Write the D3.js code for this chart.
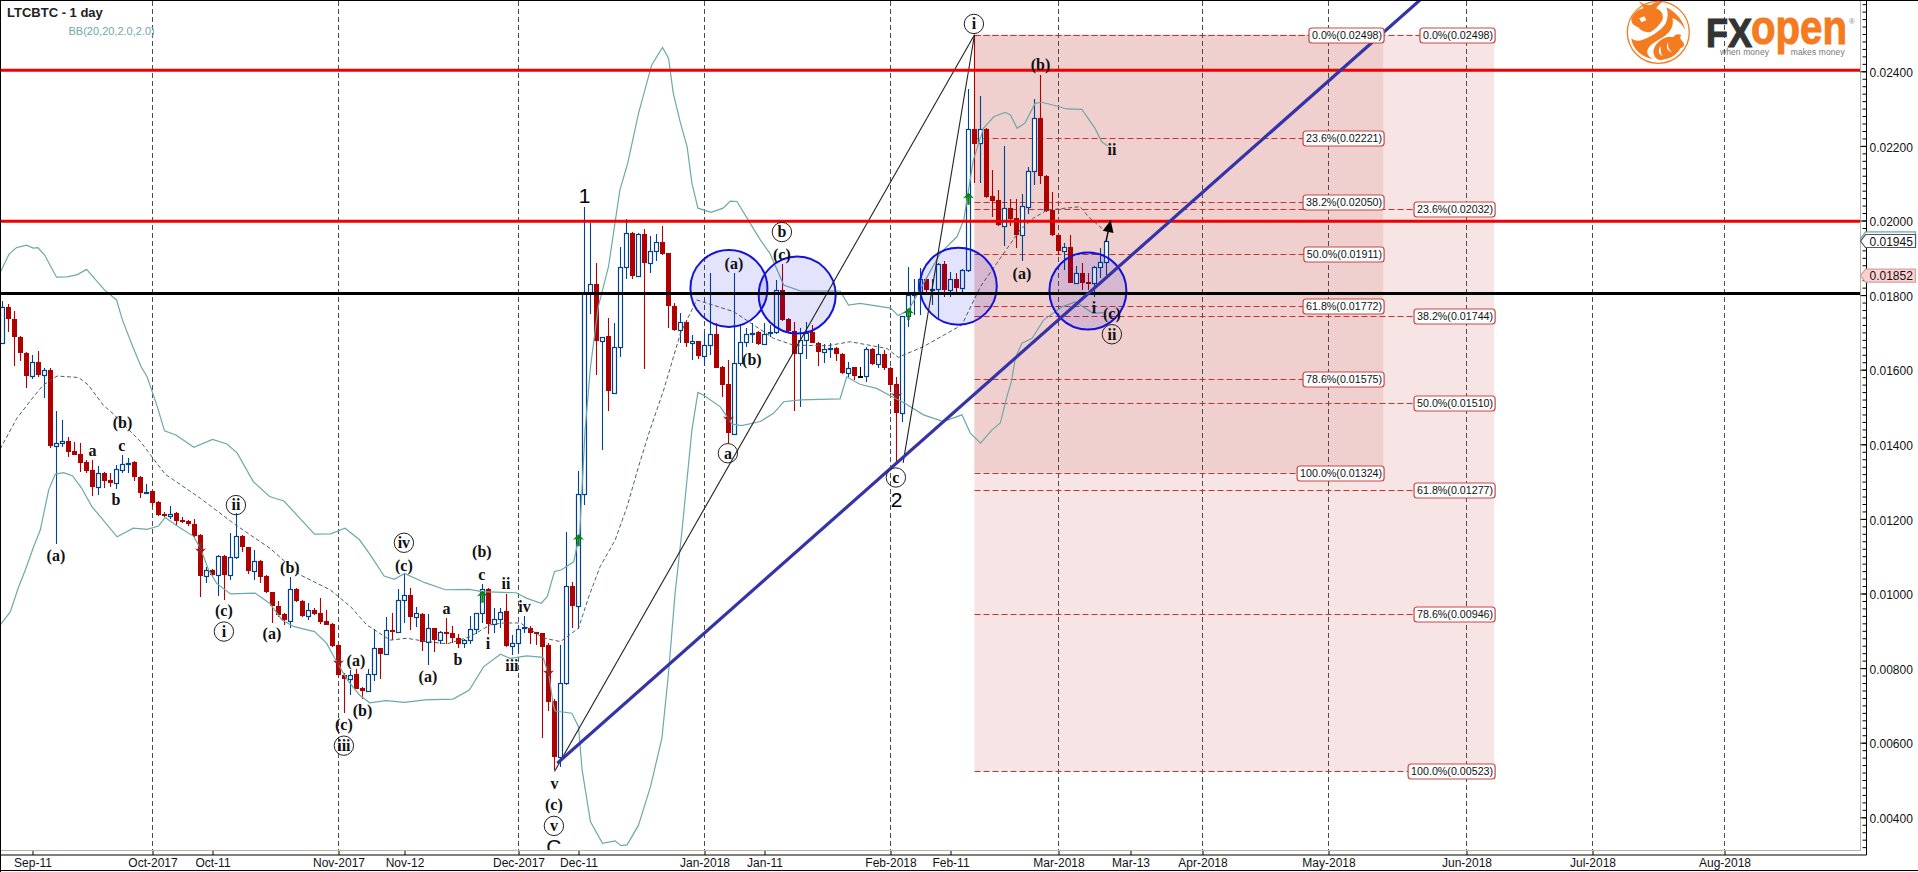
<!DOCTYPE html>
<html><head><meta charset="utf-8">
<script src="https://cdn.jsdelivr.net/npm/d3@7"></script>
<style>
html,body{margin:0;padding:0;background:#fff;overflow:hidden}
svg{display:block}
text{font-family:"Liberation Sans",Arial,sans-serif}
.wave{font-family:"Liberation Serif","Times New Roman",serif;font-weight:bold;font-size:16px;fill:#111;text-anchor:middle}
</style></head><body>
<svg id="c" width="1918" height="872"></svg>
<script>
// all prices below are in units of 0.00001 BTC
const UNIT = 1e-5;
const firstBar = -5; // bar 0 is Sep-11 2017, one bar per day
const opens = [1671,1767,1735,1689,1644,
1584,1620,1587,1598,1396,1403,1408,1381,1373,1352,
1331,1286,1322,1304,1297,1332,1346,1352,1311,1271,
1275,1245,1212,1209,1215,1197,1194,1185,1157,1048,
1062,1050,1100,1050,1097,1153,1124,1059,1087,1047,
1003,966,944,927,1011,981,941,956,947,925,
918,861,782,772,784,747,738,783,853,837,
901,896,982,995,938,945,871,907,874,896,
893,880,866,874,906,947,1011,918,932,953,
860,868,907,908,896,893,862,712,563,759,
1019,967,1266,1805,1829,1676,1690,1538,1660,1874,
1966,1852,1963,1885,1919,1943,1912,1772,1706,1729,
1671,1676,1637,1667,1695,1608,1561,1428,1619,1673,
1695,1700,1669,1698,1700,1815,1735,1705,1644,1679,
1701,1672,1648,1655,1657,1642,1590,1606,1583,1584,
1655,1614,1642,1604,1562,1485,1744,1799,1807,1844,
1815,1817,1883,1815,1842,1818,1866,2244,2207,2244,
2066,2054,1986,2033,2006,1962,2037,2132,2275,2119,
2028,1961,1917,1928,1833,1858,1835,1832,1875,1888];
const highs = [1784,1776,1757,1690,1648,
1639,1650,1605,1604,1489,1465,1420,1407,1403,1358,
1358,1342,1327,1322,1344,1371,1362,1354,1315,1293,
1275,1247,1218,1234,1218,1206,1197,1199,1159,1070,
1065,1102,1102,1161,1215,1158,1126,1117,1090,1050,
1003,979,947,1043,1016,983,974,960,987,957,
920,861,788,795,797,750,797,904,854,936,
949,1011,1052,1014,963,947,945,908,899,934,
913,891,877,940,949,1025,1014,960,960,998,
889,915,941,913,898,895,866,716,862,1165,
1030,1328,2035,1994,1885,1689,1739,1724,1930,2003,
1970,1967,1976,1958,1964,1986,1914,1778,1751,1733,
1693,1678,1702,1858,1724,1610,1626,1858,1720,1711,
1724,1705,1724,1720,1841,1883,1738,1728,1711,1729,
1720,1675,1668,1671,1662,1644,1620,1608,1608,1660,
1657,1668,1653,1606,1580,1744,1876,1842,1872,1847,
1842,1885,1892,1863,1858,1869,2352,2497,2334,2247,
2135,2082,2201,2057,2057,2070,2143,2326,2390,2122,
2077,1962,1939,1961,1878,1885,1858,1878,1925,1945];
const lows = [1671,1702,1611,1622,1552,
1576,1581,1525,1389,1133,1392,1367,1370,1327,1324,
1261,1263,1283,1286,1280,1324,1322,1302,1257,1267,
1233,1208,1204,1199,1184,1188,1181,1152,991,1029,
1047,993,983,1036,1092,1111,1052,1036,1029,1000,
922,938,915,908,978,936,929,942,918,915,
857,780,680,729,743,718,738,765,772,836,
874,895,922,902,909,847,809,843,865,864,
866,855,855,865,891,922,891,895,907,856,
835,844,893,865,861,613,685,527,536,755,
908,905,1238,1749,1586,1385,1488,1538,1633,1842,
1843,1848,1601,1858,1892,1908,1711,1705,1671,1662,
1626,1630,1610,1639,1604,1526,1404,1426,1610,1662,
1671,1666,1666,1687,1697,1731,1702,1488,1501,1630,
1671,1610,1617,1631,1622,1588,1581,1572,1577,1568,
1613,1604,1599,1541,1349,1461,1715,1747,1747,1808,
1773,1733,1796,1796,1809,1807,1863,2100,2100,2059,
2010,1986,1932,1985,1927,1892,2017,2095,2097,2024,
1959,1908,1866,1832,1832,1814,1814,1796,1845,1854];
const closes = [1767,1735,1689,1644,1584,
1620,1587,1598,1396,1403,1408,1380,1371,1351,1329,
1286,1322,1302,1297,1333,1346,1351,1311,1270,1273,
1243,1210,1208,1214,1195,1193,1185,1155,1048,1062,
1050,1100,1050,1097,1153,1124,1059,1088,1045,1003,
966,942,928,1011,981,941,957,945,924,916,
860,782,772,782,745,738,784,853,837,901,
896,982,995,938,947,871,907,874,896,893,
880,865,874,906,947,1011,918,932,951,860,
868,904,909,895,893,857,710,563,759,1019,
967,1266,1807,1829,1678,1689,1542,1660,1874,1966,
1852,1963,1885,1919,1943,1910,1772,1706,1729,1671,
1676,1637,1667,1695,1605,1559,1429,1619,1673,1695,
1699,1669,1697,1700,1815,1733,1705,1642,1680,1699,
1672,1648,1655,1657,1642,1590,1605,1584,1583,1655,
1614,1641,1604,1560,1485,1744,1799,1807,1844,1815,
1817,1883,1815,1842,1818,1867,2244,2206,2244,2064,
2053,1988,2033,2005,1962,2039,2132,2275,2118,2026,
1960,1917,1928,1833,1858,1833,1832,1875,1888,1945];

// Bollinger bands as [bar, price] readings
const bbUpper = [[-5.4,1860],[-3.9,1910],[-2.7,1927],[-1,1934],[0.1,1926],[0.9,1927],[2,1908],[4,1848],[5.8,1849],[7.5,1855],[9,1869],[12,1814],[14,1787],[15,1733],[16.7,1662],[18.1,1608],[19.1,1581],[20.8,1501],[22,1436],[23.9,1425],[26.9,1392],[30,1413],[32.4,1401],[34.1,1377],[36.8,1300],[39.5,1260],[41.9,1248],[47,1159],[49.7,1160],[52.1,1175],[54.5,1144],[56.5,1099],[58.6,1047],[60.3,1038],[62,1054],[65.4,1029],[68.8,1010],[72.8,1011],[74.9,1005],[80.6,1002],[82.4,987],[84.8,974],[85.8,992],[87,1059],[88.1,1063],[90.2,1085],[91.2,1162],[92.1,1438],[93,1608],[94.3,1769],[96,1876],[97.9,2082],[99.2,2153],[101,2287],[103.2,2417],[105,2464],[106,2435],[106.8,2341],[108,2261],[109.1,2198],[109.9,2100],[110.9,2033],[113.1,2022],[115.1,2033],[116.3,2052],[117.4,2051],[119.3,2001],[121.3,1948],[122.9,1912],[125.2,1827],[128,1811],[134.6,1811],[136,1773],[137.9,1778],[143,1765],[144.3,1745],[146,1760],[147.9,1814],[151.3,1912],[154.1,1957],[155.2,2001],[156.8,2162],[158.5,2247],[160.2,2278],[162.1,2290],[163,2283],[164.1,2247],[165.4,2261],[167.1,2314],[168.2,2317],[170.7,2307],[172.4,2299],[174.9,2298],[177.1,2247],[178.2,2211],[179.2,2200]];
const bbMiddle = [[-5.4,1387],[-2.6,1470],[0.2,1528],[1.8,1559],[4.1,1583],[7.7,1579],[9.3,1559],[11.8,1505],[13.5,1481],[18,1407],[22.1,1320],[28,1255],[33.5,1188],[36.3,1157],[39.6,1121],[44.6,1050],[49.6,1010],[53,965],[55.7,916],[59.6,875],[62.4,880],[65.7,871],[69.1,865],[72.9,884],[76.3,916],[78.5,921],[81.3,921],[85.1,881],[88,871],[91,907],[92.7,991],[94.6,1072],[97.1,1143],[99.1,1233],[101,1340],[102.9,1438],[105.2,1546],[108,1698],[110.7,1787],[116.8,1756],[120.2,1720],[123.5,1684],[126.8,1666],[132.4,1664],[136.3,1675],[142.4,1657],[144.3,1633],[148.5,1662],[154.9,1720],[158,1823],[160.7,1885],[164.6,1975],[166.8,2006],[169.1,2028],[174.6,2037],[176,2010],[178.5,1975]];
const bbLower = [[-5.4,915],[-3.7,951],[-2.3,1018],[-1.2,1063],[0.2,1126],[1.3,1170],[2.7,1278],[3.8,1320],[5.2,1324],[6.7,1315],[8.2,1282],[9.9,1233],[11.3,1206],[14.1,1152],[16.8,1175],[19.1,1172],[21,1181],[22.1,1204],[24.1,1181],[26.8,1154],[28,1121],[29.3,1065],[30.7,1027],[33,999],[37.1,1001],[39.5,974],[41.6,929],[43.6,911],[47,898],[49,867],[50.7,817],[52.5,768],[54.5,728],[56.2,707],[58.9,713],[62,708],[65.4,715],[70.1,717],[72.8,741],[75.2,804],[78,837],[79.6,826],[82.4,833],[85.1,829],[86.1,777],[86.8,701],[87.1,685],[89.9,679],[91,643],[91.6,527],[93,388],[95,330],[97.1,337],[98.1,324],[99.1,326],[101,379],[103,482],[104.9,612],[106,786],[107.1,1001],[108.2,1161],[109.9,1438],[110.9,1539],[111.8,1532],[114.6,1501],[116.6,1454],[118.2,1450],[121.3,1461],[123.5,1483],[125.2,1514],[128,1519],[134.6,1522],[135.7,1581],[137.9,1561],[140.7,1550],[143.2,1528],[145.4,1510],[148.5,1479],[151.8,1461],[154.9,1479],[156.3,1430],[158,1403],[159.9,1438],[161.3,1457],[162.4,1528],[163.2,1572],[163.8,1631],[164.9,1671],[166.6,1684],[168.5,1733],[171.6,1769],[173.8,1782],[176.8,1751],[178.5,1753]];

// time axis: label and bar index (future bars count weekdays only)
const xTickLabels = ["Sep-11","Oct-2017","Oct-11","Nov-2017","Nov-12","Dec-2017","Dec-11","Jan-2018","Jan-11","Feb-2018","Feb-11","Mar-2018","Mar-13","Apr-2018","May-2018","Jun-2018","Jul-2018","Aug-2018"];
const xTickBars = [0,20,30,51,62,81,91,112,122,143,153,171,183,195,216,239,260,282];
const gridBars = [20,51,81,112,143,171,195,216,239,260,282];

// levels
const redLevels = [0.02403,0.01998];
const blackLevel = 0.01804;
const fibPct = ["0.0%","23.6%","38.2%","50.0%","61.8%","78.6%","100.0%"];
const fibA = [0.02498,0.02221,0.02050,0.01911,0.01772,0.01575,0.01324];
const fibB = [0.02498,0.02032,0.01744,0.01510,0.01277,0.00946,0.00523];
const fibStartBar = 157, fibAEndBar = 225.1, fibBEndBar = 243.6;

// annotations [bar, price, text, circled]
const waveLabels = [[3.9,1101,"(a)"],[10,1383,"a"],[14.9,1396,"c"],[13.9,1251,"b"],[15,1458,"(b)"],[33.9,1237,"ii",1],[31.9,953,"(c)"],[31.9,898,"i",1],[39.9,891,"(a)"],[42.9,1069,"(b)"],[53.9,819,"(a)"],[55,685,"(b)"],[51.9,649,"(c)"],[51.9,592,"iii",1],[61.9,1136,"iv",1],[61.9,1075,"(c)"],[65.9,777,"(a)"],[69,959,"a"],[70.9,822,"b"],[74.9,1051,"c"],[74.9,1111,"(b)"],[75.9,865,"i"],[78.9,1026,"ii"],[82,965,"iv"],[79.9,807,"iii"],[87,491,"v"],[86.9,433,"(c)"],[86.9,377,"v",1],[115.9,1376,"a",1],[143.9,1311,"c",1],[156.9,2527,"i",1],[124.9,1969,"b",1],[124.9,1908,"(c)"],[116.9,1885,"(a)"],[119.9,1626,"(b)"],[164.9,1858,"(a)"],[168,2417,"(b)"],[179.9,2189,"ii"],[176.9,1765,"i"],[179.9,1751,"(c)"],[179.9,1695,"ii",1]];
const bigLabels = [[92,2067,"1"],[144,1251,"2"]];
const upArrows = [[75,991],[91,1143],[146,1749],[156,2058]];
const downArrows = [[28,1122],[51,822],[86,795],[116,1476],[144,1538]];
const blueCircles = [[116.07,1818],[127.45,1800],[154.3,1824],[175.9,1811]];
const thinLines = [[[87,523],[157,2498]],[[145.1,1350],[157,2498]]];
const trendLine = [[87.47,545],[231.25,2591]];
const nextMove = [[178.9,1943],[179.7,2001]];
const currentPrice = 0.01945, otherPrice = 0.01852, hiddenTag = 0.01952;

const W=1918,H=872,plotR=1860.5,axisX=1866.5,plotB=851,axisB=855;
const x=d3.scaleLinear().domain([0,282]).range([32.5,1724.5]);
const y=d3.scaleLinear().domain([0.004,0.024]).range([817.3,71.3]);
const py=p=>y(p*UNIT);
const svg=d3.select("#c");
const line=d3.line().x(d=>x(d[0])).y(d=>py(d[1]));

const defs=svg.append("defs");
defs.append("clipPath").attr("id","plot").append("rect").attr("x",1).attr("y",1).attr("width",plotR-1).attr("height",plotB-1);
const g=svg.append("g").attr("clip-path","url(#plot)");

// fib zones
g.append("rect").attr("x",x(fibStartBar)).attr("width",x(fibBEndBar)-x(fibStartBar)).attr("y",y(fibB[0])).attr("height",y(fibB[6])-y(fibB[0])).attr("fill","#f7e4e4");
g.append("rect").attr("x",x(fibStartBar)).attr("width",x(fibAEndBar)-x(fibStartBar)).attr("y",y(fibA[0])).attr("height",y(fibA[6])-y(fibA[0])).attr("fill","#f0cfcf");

// grid
g.selectAll("line.grid").data(gridBars).join("line").attr("class","grid")
 .attr("x1",d=>x(d)).attr("x2",d=>x(d)).attr("y1",1).attr("y2",plotB)
 .attr("stroke","#4d4d4d").attr("stroke-dasharray","5,3");

// fib level lines
const fibLines=[...fibB.map(v=>[v,x(fibBEndBar)]),...fibA.map(v=>[v,x(fibAEndBar)])];
g.selectAll("line.fib").data(fibLines).join("line").attr("class","fib")
 .attr("x1",x(fibStartBar)).attr("x2",d=>d[1]).attr("y1",d=>Math.round(y(d[0]))+.5).attr("y2",d=>Math.round(y(d[0]))+.5)
 .attr("stroke","#c83232").attr("stroke-dasharray","6,3");

// candles
const bars=opens.map((o,i)=>({i:i+firstBar,o,h:highs[i],l:lows[i],c:closes[i]}));
const color=d=>d.c>d.o?"#00438f":d.c<d.o?"#b00000":"#000";
const cg=g.append("g");
cg.selectAll("line").data(bars).join("line")
 .attr("x1",d=>x(d.i)).attr("x2",d=>x(d.i)).attr("y1",d=>Math.round(py(d.h))).attr("y2",d=>Math.round(py(d.l)))
 .attr("stroke",color).attr("stroke-width",1.1);
cg.selectAll("rect").data(bars).join("rect")
 .each(function(d){
   const t=Math.round(py(Math.max(d.o,d.c))),b=Math.round(py(Math.min(d.o,d.c)));
   const s=d3.select(this);
   if(d.c>d.o) s.attr("x",x(d.i)-2).attr("width",4).attr("y",t+.5).attr("height",Math.max(1,b-t)).attr("fill","#fff").attr("stroke","#00438f").attr("stroke-width",1.2);
   else s.attr("x",x(d.i)-2.5).attr("width",5).attr("y",t).attr("height",Math.max(2,b-t)).attr("fill",color(d));
 });

// bollinger
const bandG=g.append("g").attr("fill","none");
bandG.append("path").attr("d",line(bbUpper)).attr("stroke","#6ea8a8").attr("stroke-width",1.2);
bandG.append("path").attr("d",line(bbLower)).attr("stroke","#6ea8a8").attr("stroke-width",1.2);
bandG.append("path").attr("d",line(bbMiddle)).attr("stroke","#4f5f5f").attr("stroke-width",1).attr("stroke-dasharray","4,2.5");

// signal arrows
const arrowPath=dir=>`M0,${-6*dir}L${-5.5},${-0.5*dir}L-1.2,${-1.5*dir}L-1.2,${6*dir}L1.2,${6*dir}L1.2,${-1.5*dir}L5.5,${-0.5*dir}Z`;
g.selectAll("path.up").data(upArrows).join("path").attr("class","up").attr("d",arrowPath(1))
 .attr("transform",d=>`translate(${x(d[0])},${py(d[1])})`).attr("fill","#0b860b");
g.selectAll("path.dn").data(downArrows).join("path").attr("class","dn").attr("d",arrowPath(-1))
 .attr("transform",d=>`translate(${x(d[0])},${py(d[1])})`).attr("fill","#9a1c1c");

// blue circles
g.selectAll("circle.zone").data(blueCircles).join("circle").attr("class","zone")
 .attr("cx",d=>x(d[0])).attr("cy",d=>py(d[1])).attr("r",38.5)
 .attr("fill","rgba(0,0,220,0.11)").attr("stroke","#1212dc").attr("stroke-width",2);

// thin wave lines
g.selectAll("path.thin").data(thinLines).join("path").attr("class","thin").attr("d",line).attr("fill","none").attr("stroke","#222").attr("stroke-width",1.1);

// horizontal levels
g.selectAll("line.red").data(redLevels).join("line").attr("class","red")
 .attr("x1",1).attr("x2",plotR).attr("y1",d=>y(d)).attr("y2",d=>y(d)).attr("stroke","#f00000").attr("stroke-width",3);
g.append("line").attr("x1",1).attr("x2",plotR).attr("y1",y(blackLevel)).attr("y2",y(blackLevel)).attr("stroke","#000").attr("stroke-width",3);

// trend line
g.append("path").attr("d",line(trendLine)).attr("stroke","#3434a6").attr("stroke-width",3.2).attr("fill","none");

// next move arrow
const [a0,a1]=nextMove;
g.append("path").attr("d",line(nextMove)).attr("stroke","#000").attr("stroke-width",1.4);
const ang=Math.atan2(py(a1[1])-py(a0[1]),x(a1[0])-x(a0[0]))*180/Math.PI;
g.append("path").attr("d","M0,0L-12,-5.5L-12,5.5Z").attr("fill","#000").attr("transform",`translate(${x(a1[0])},${py(a1[1])}) rotate(${ang})`);

// wave labels
const wl=g.append("g");
wl.selectAll("text").data(waveLabels).join("text").attr("class","wave")
 .attr("x",d=>x(d[0])).attr("y",d=>py(d[1])).attr("dy",".33em").text(d=>d[2]);
wl.selectAll("circle").data(waveLabels.filter(d=>d[3])).join("circle")
 .attr("cx",d=>x(d[0])).attr("cy",d=>py(d[1])).attr("r",9.7).attr("fill","none").attr("stroke","#222").attr("stroke-width",1);
wl.append("text").attr("class","wave").attr("x",x(86.9)).attr("y",py(323)).attr("dy",".36em").attr("style","font-size:21px;font-weight:normal;font-family:'Liberation Sans',sans-serif").text("C");
wl.selectAll("text.big").data(bigLabels).join("text").attr("class","big")
 .attr("x",d=>x(d[0])).attr("y",d=>py(d[1])).attr("dy",".36em").attr("text-anchor","middle").attr("font-size",21).attr("fill","#000").text(d=>d[2]);

// fib tags
function fibTags(values,endBar,rightEdge){
 values.forEach((v,k)=>{
  const yy=Math.round(y(v))+.5;
  const tg=svg.append("g");
  const r=tg.append("rect").attr("y",yy-7.5).attr("height",15).attr("rx",3).attr("fill","#fff").attr("stroke","#cf4444").attr("stroke-width",1.2);
  const t=tg.append("text").attr("x",rightEdge-2).attr("y",yy).attr("dy",".36em").attr("text-anchor","end").attr("font-size",10.7).attr("fill","#111").text(`${fibPct[k]}(${v.toFixed(5)})`);
  const w=t.node().getComputedTextLength()+5;
  r.attr("x",rightEdge-w).attr("width",w);
 });
}
fibTags(fibB,fibBEndBar,x(fibBEndBar)+1);
fibTags(fibA,fibAEndBar,x(fibAEndBar)+1);

// frame
const frame=svg.append("g");
frame.append("line").attr("x1",0).attr("x2",plotR).attr("y1",850.5).attr("y2",850.5).attr("stroke","#b4b4a0");
frame.append("line").attr("x1",plotR).attr("x2",plotR).attr("y1",1).attr("y2",851).attr("stroke","#b4b4a0");
frame.append("line").attr("x1",0).attr("x2",axisX).attr("y1",axisB).attr("y2",axisB).attr("stroke","#000");
frame.append("line").attr("x1",axisX).attr("x2",axisX).attr("y1",0).attr("y2",axisB).attr("stroke","#000");
frame.append("line").attr("x1",0).attr("x2",W).attr("y1",.5).attr("y2",.5).attr("stroke","#000");
frame.append("line").attr("x1",.5).attr("x2",.5).attr("y1",0).attr("y2",H).attr("stroke","#000");
frame.append("line").attr("x1",0).attr("x2",W).attr("y1",870.5).attr("y2",870.5).attr("stroke","#000");

// axes
const xAxis=d3.axisBottom(x).tickValues(xTickBars).tickSize(4).tickPadding(3.5).tickFormat((d,i)=>xTickLabels[i]);
const ax=svg.append("g").attr("transform",`translate(0,${plotB})`).call(xAxis);
ax.select(".domain").remove();
ax.selectAll("text").attr("font-size",12).attr("font-family","Liberation Sans").attr("fill","#111");
const majors=d3.range(0,11).map(k=>0.004+k*0.002);
const minors=d3.range(0,114).map(k=>0.0032+k*0.0002);
const yMinor=svg.append("g").attr("transform",`translate(${axisX},0)`).call(d3.axisLeft(y).tickValues(minors).tickSize(4).tickFormat(""));
yMinor.select(".domain").remove();
const yMajor=svg.append("g").attr("transform",`translate(${axisX},0)`).call(d3.axisLeft(y).tickValues(majors).tickSize(6).tickFormat(""));
yMajor.select(".domain").remove();
const yLab=svg.append("g").attr("transform",`translate(${axisX},0)`).call(d3.axisRight(y).tickValues(majors).tickSize(0).tickPadding(3).tickFormat(d3.format(".5f")));
yLab.select(".domain").remove();
yLab.selectAll("text").attr("font-size",12).attr("font-family","Liberation Sans").attr("fill","#111").attr("dy",".44em");

// price tags
function tag(p,fill,stroke,label){
 const c=y(p);
 const pts=`M${plotR},${c}L${plotR+5},${c-6.5}L1915.5,${c-6.5}L1915.5,${c+6.5}L${plotR+5},${c+6.5}Z`;
 svg.append("path").attr("d",pts).attr("fill",fill).attr("stroke",stroke).attr("stroke-width",1.2);
 if(label) svg.append("text").attr("x",1869.5).attr("y",c).attr("dy",".38em").attr("font-size",12).attr("fill","#111").text(label);
}
tag(hiddenTag,"#eef6f6","#7aa","");
tag(currentPrice,"#fff","#556",currentPrice.toFixed(5));
tag(otherPrice,"#fbd0d0","#d8a0a0",otherPrice.toFixed(5));

// titles
svg.append("text").attr("x",7).attr("y",17).attr("font-size",13).attr("font-weight","bold").attr("fill","#222").text("LTCBTC - 1 day");
svg.append("text").attr("x",68.5).attr("y",34.5).attr("font-size",11).attr("fill","#6ea8a8").text("BB(20,20,2.0,2.0)");

// logo
const L=svg.append("g");
const b=L.append("g").attr("transform","translate(1658.3,32.3)").attr("fill","#f47b20");
b.append("circle").attr("r",31).attr("fill","#fff").attr("stroke","#f47b20").attr("stroke-width",1.3);
b.append("path").attr("d","M-27,-13C-25,-19-20,-23-15,-24C-15,-27-19,-29-19,-31C-15,-28-11,-27-8,-27C-5,-30 0,-31 4,-30C1,-28-1,-26-2,-24C3,-22 6,-17 4,-12C1,-7-3,-3-8,0C-14,0-18,-2-20,-5C-23,-6-27,-8-27,-13Z");
b.append("path").attr("d","M8,-25C17,-21 25,-12 27,-2C24,-8 19,-13 14,-14C16,-8 13,-1 6,4C0,8-7,11-10,16C-13,21-9,25-5,27C-16,25-26,17-27,6C-25,8-21,9-17,8C-8,5 2,-1 7,-8C10,-14 10,-20 8,-25Z");
b.append("path").attr("d","M-2,12C3,6 10,3 15,5C17,2 20,1 23,3C21,5 22,7 24,9C27,12 26,15 22,16C19,22 13,26 6,27C2,29-3,27-4,23C-6,19-4,15-2,12Z");
b.append("path").attr("d","M2,14C3,18 2,22 5,24C1,23-1,19 2,14ZM10,10C9,14 11,18 14,20C9,19 7,14 10,10Z").attr("fill","#fff");
b.append("path").attr("d","M-19,-14L-14,-16L-12,-12L-17,-10Z").attr("fill","#fff");
L.append("text").attr("x",1706).attr("y",46.7).attr("font-size",41).attr("font-weight","bold").attr("fill","#333").attr("stroke","#333").attr("stroke-width",1.2).attr("textLength",46).attr("lengthAdjust","spacingAndGlyphs").text("FX");
L.append("text").attr("x",1751).attr("y",43.6).attr("font-size",48).attr("font-weight","bold").attr("fill","#f47b20").attr("stroke","#f47b20").attr("stroke-width",1).attr("textLength",96).attr("lengthAdjust","spacingAndGlyphs").text("open");
L.append("text").attr("x",1849).attr("y",24).attr("font-size",8).attr("fill","#888").text("®");
L.append("text").attr("x",1720).attr("y",54.5).attr("font-size",8.5).attr("fill","#777").attr("textLength",49).text("when money");
L.append("text").attr("x",1790.7).attr("y",54.5).attr("font-size",8.5).attr("fill","#777").attr("textLength",54).text("makes money");
</script></body></html>
